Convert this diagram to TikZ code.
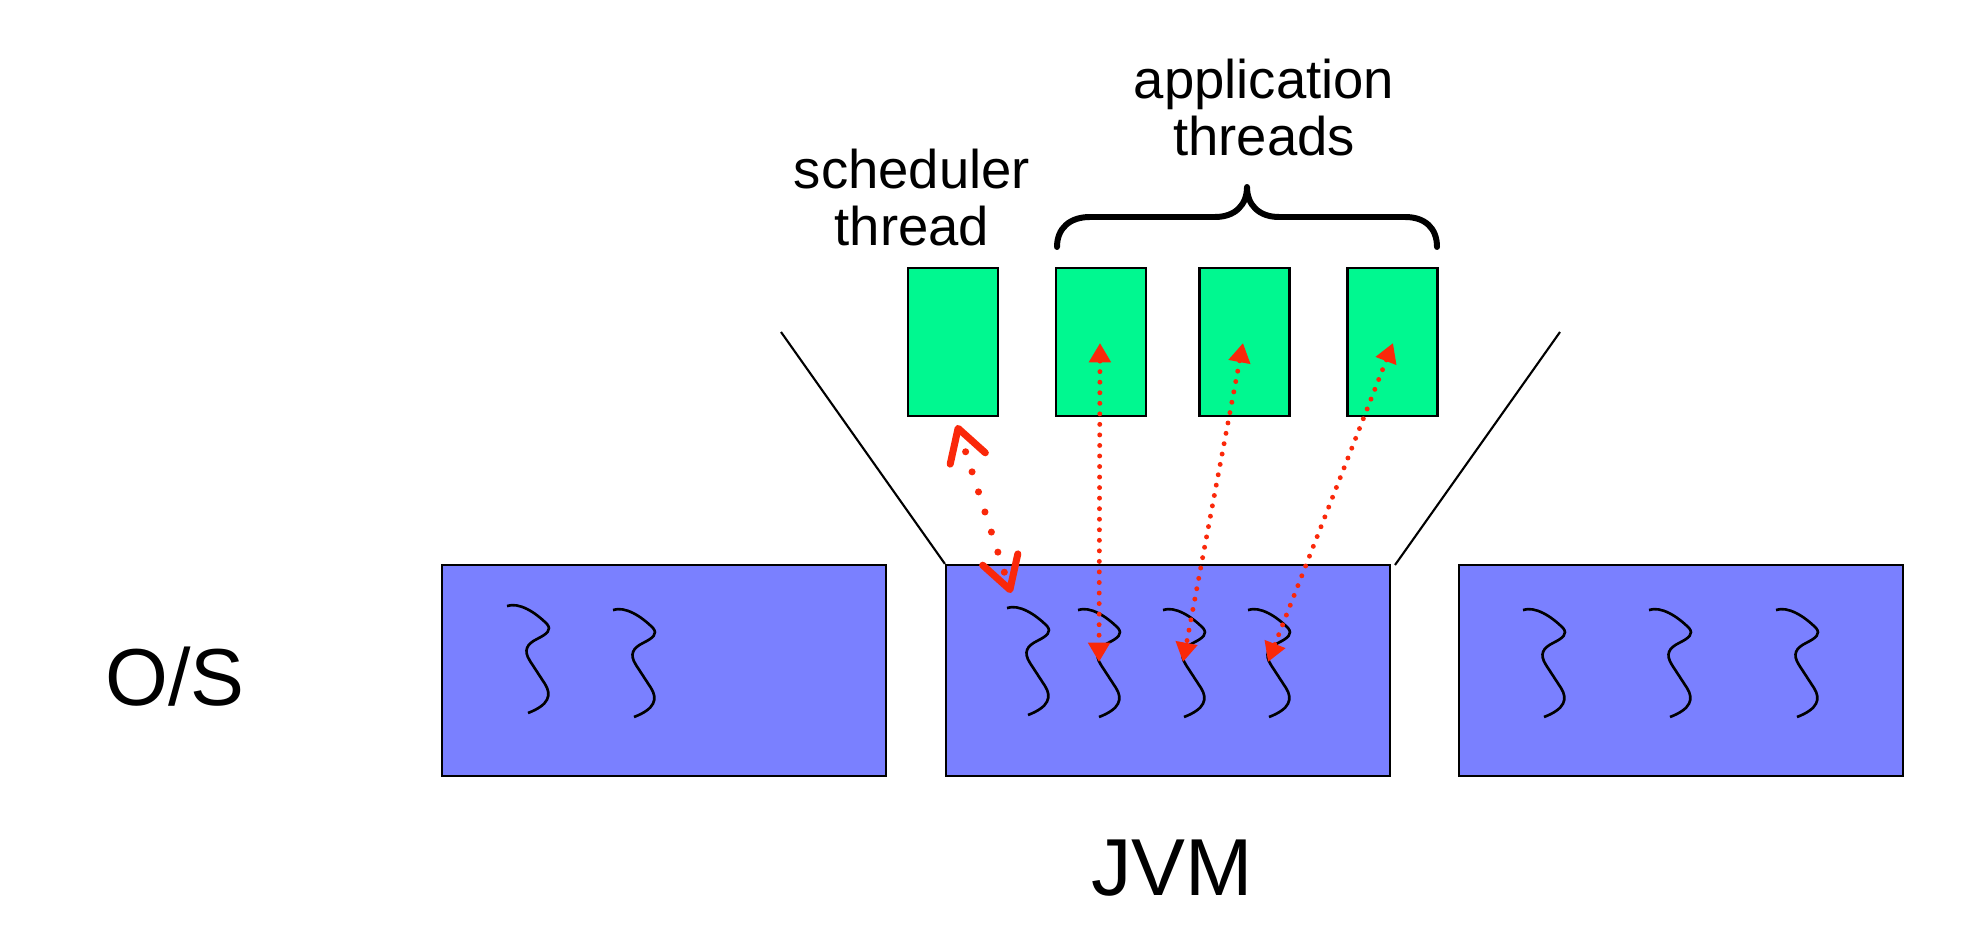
\documentclass[tikz,border=0pt]{standalone}
\usepackage{fontspec}
\setmainfont{Liberation Sans}
\usetikzlibrary{arrows.meta,positioning}
\definecolor{osblue}{RGB}{122,128,255}
\definecolor{thrgreen}{RGB}{0,248,144}
\definecolor{msgred}{RGB}{250,40,10}

\begin{document}
\begin{tikzpicture}[
    x=0.02cm, y=-0.02cm,
    osbox/.style={rectangle, draw, line width=1.3pt, fill=osblue, minimum width=8.88cm, minimum height=4.22cm, inner sep=0pt},
    thrbox/.style={rectangle, draw, line width=1.3pt, fill=thrgreen, minimum width=1.8cm, minimum height=2.96cm, inner sep=0pt},
    lbl/.style={font=\fontsize{31}{33}\selectfont, align=center, inner sep=0pt},
    biglbl/.style={font=\fontsize{46}{50}\selectfont, inner sep=0pt},
    wire/.style={line width=1.2pt},
    msg/.style={draw=msgred, line width=2.8pt, line cap=round, dash pattern=on 0pt off 6pt, <->, >={Triangle[length=11pt,width=12pt]}},
    schedmsg/.style={draw=msgred, line width=4pt, line cap=round, dash pattern=on 0pt off 12pt, <->, >={Straight Barb[length=18pt,width=21pt,line cap=round,round]}},
    squig/.pic={\draw[line width=1.5pt] (0,0) .. controls (12,-4) and (28,6) .. (40,18) .. controls (45,24) and (40,28) .. (30,33) .. controls (20,38) and (16,44) .. (23,55) -- (38,78) .. controls (45,89) and (42,99) .. (21,107);}
]
\useasboundingbox (0,0) rectangle (1985,949);

% O/S boxes
\node[osbox] (osleft) at (664,670.5) {};
\node[osbox] (jvmbox) at (1168,670.5) {};
\node[osbox] (osright) at (1681,670.5) {};

% native threads
\foreach \sx/\sy in {507/606, 613/610, 1007/608, 1078/610, 1163/610, 1248/610, 1523/610, 1649/610, 1776/610}
    \pic at (\sx,\sy) {squig};

% zoom lines
\coordinate (zoomleft) at (781,332);
\coordinate (zoomright) at (1560,332);
\coordinate (jvmright) at (1395,565);
\draw[wire] (zoomleft) -- (jvmbox.north west);
\draw[wire] (zoomright) -- (jvmright);

% Java threads
\node[thrbox] (sched) at (953,342) {};
\node[thrbox] (app1) at (1101,342) {};
\node[thrbox] (app2) at (1244.5,342) {};
\node[thrbox] (app3) at (1392.5,342) {};

% brace
\draw[line width=3.4pt, line cap=round, line join=round] (1057,247) .. controls (1057,228) and (1070,217) .. (1090,217) -- (1215,217) .. controls (1235,217) and (1247,205) .. (1247,187) .. controls (1247,205) and (1259,217) .. (1279,217) -- (1405,217) .. controls (1425,217) and (1437,228) .. (1437,247);

% Labels
\node[lbl, anchor=base] (schedlbl) at (912,246) {scheduler\\thread};
\node[lbl, anchor=base] (applbl) at (1264,156) {application\\threads};
\node[biglbl, anchor=base] (oslbl) at (175,705) {O/S};
\node[biglbl, anchor=base] (jvmlbl) at (1172,895) {JVM};

% mapping
\coordinate (schedtop) at (957,425);
\coordinate (schedbot) at (1011,593);
\coordinate (a1top) at (1100,343);
\coordinate (a1bot) at (1099,662);
\coordinate (a2top) at (1243,343);
\coordinate (a2bot) at (1183,662);
\coordinate (a3top) at (1393,343);
\coordinate (a3bot) at (1268,662);
\draw[schedmsg] (schedtop) -- (schedbot);
\draw[msg] (a1top) -- (a1bot);
\draw[msg] (a2top) -- (a2bot);
\draw[msg] (a3top) -- (a3bot);

\end{tikzpicture}
\end{document}
